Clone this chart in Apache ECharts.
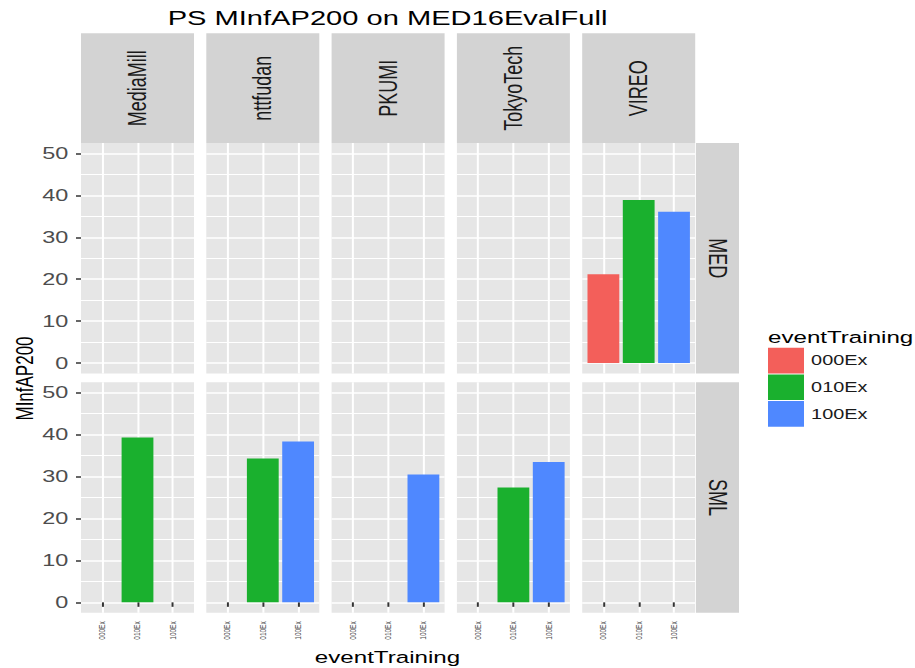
<!DOCTYPE html>
<html>
<head>
<meta charset="utf-8">
<script src="https://cdn.jsdelivr.net/npm/echarts@6/dist/echarts.min.js"></script>
<style>
html, body { margin: 0; padding: 0; background: #fff; overflow: hidden; }
#wrap { width: 915px; height: 668px; overflow: hidden; position: relative; }
#c { position: absolute; left: 0; top: 0; height: 668px; transform-origin: 0 0; }
</style>
</head>
<body>
<div id="wrap"><div id="c"></div></div>
<script>
// ---------- data ----------
const teams = ['MediaMill', 'nttfudan', 'PKUMI', 'TokyoTech', 'VIREO'];
const tasks = ['MED', 'SML'];
const categories = ['000Ex', '010Ex', '100Ex'];
const med000 = [null, null, null, null, 21.2];
const med010 = [null, null, null, null, 38.9];
const med100 = [null, null, null, null, 36.1];
const sml000 = [null, null, null, null, null];
const sml010 = [39.3, 34.3, null, 27.4, null];
const sml100 = [null, 38.4, 30.5, 33.5, null];
const yTicks = [0, 10, 20, 30, 40, 50];
const yMinor = [5, 15, 25, 35, 45];
const values = { MED: [med000, med010, med100], SML: [sml000, sml010, sml100] };

// ---------- style / layout ----------
const S = 1.42;                 // horizontal stretch of the reference
const W = 915 / S;
const FONT = 'Liberation Sans, Arial, sans-serif';
const colors = ['#F35F5A', '#1AB02E', '#4F88FF'];
const panelBg = '#E6E6E6';
const stripBg = '#D3D3D3';
const colLeft = [81, 206.3, 331.6, 456.9, 582.2];
const colW = 113;
const rowTop = [143, 382.3];
const rowH = 230.5;
const stripTop = 33.3, stripH = 109.7;
const rStripX = 696, rStripW = 43;

const el = document.getElementById('c');
el.style.width = W + 'px';
el.style.transform = 'scaleX(' + S + ')';
const chart = echarts.init(el, null, { renderer: 'svg', width: W, height: 668 });

const grid = [], xAxis = [], yAxis = [], series = [], graphic = [];
tasks.forEach((task, r) => {
  teams.forEach((team, c) => {
    const gi = r * teams.length + c;
    grid.push({
      left: colLeft[c] / S, top: rowTop[r], width: colW / S, height: rowH,
      show: true, backgroundColor: panelBg, borderWidth: 0, containLabel: false
    });
    xAxis.push({
      type: 'value', gridIndex: gi, min: 0.4, max: 3.6,
      axisLine: { show: false },
      axisTick: { show: r === 1, customValues: [1, 2, 3], length: 4.5,
        lineStyle: { color: '#333333', width: 1.4 } },
      axisLabel: { show: r === 1, customValues: [1, 2, 3], rotate: 90, margin: 8.5,
        fontSize: 6.5, fontFamily: FONT, color: '#4D4D4D',
        formatter: v => categories[Math.round(v) - 1] },
      splitLine: { show: true, lineStyle: { color: '#FFFFFF', width: 1.4 } }
    });
    yAxis.push({
      type: 'value', gridIndex: gi, min: -2.5, max: 52.5,
      axisLine: { show: false },
      axisTick: { show: c === 0, customValues: yTicks, length: 5 / S,
        lineStyle: { color: '#333333', width: 1.5 } },
      axisLabel: { show: c === 0, customValues: yTicks, margin: 12.7 / S,
        fontSize: 16.5, fontFamily: FONT, color: '#4D4D4D' },
      splitLine: { show: true, lineStyle: { color: '#FFFFFF', width: 1.7 } }
    });
    yAxis.push({
      type: 'value', gridIndex: gi, min: -2.5, max: 52.5,
      axisLine: { show: false },
      axisTick: { show: false, customValues: yMinor },
      axisLabel: { show: false, customValues: yMinor },
      splitLine: { show: true, lineStyle: { color: '#FFFFFF', width: 0.9 } }
    });
    categories.forEach((cat, k) => {
      const v = values[task][k][c];
      series.push({
        type: 'bar', name: cat, xAxisIndex: gi, yAxisIndex: 2 * gi,
        barWidth: 31.8 / S, barGap: '-100%',
        itemStyle: { color: colors[k] },
        data: v == null ? [] : [[k + 1, v]],
        silent: true, animation: false
      });
    });
  });
});

// facet strips
teams.forEach((team, c) => {
  graphic.push({ type: 'rect', silent: true,
    shape: { x: colLeft[c] / S, y: stripTop, width: colW / S, height: stripH },
    style: { fill: stripBg } });
  graphic.push({ type: 'text', silent: true,
    x: (colLeft[c] + colW / 2) / S, y: stripTop + stripH / 2, rotation: Math.PI / 2,
    style: { text: team, fontSize: 18, fontFamily: FONT, fill: '#1A1A1A',
      align: 'center', verticalAlign: 'middle' } });
});
tasks.forEach((task, r) => {
  graphic.push({ type: 'rect', silent: true,
    shape: { x: rStripX / S, y: rowTop[r], width: rStripW / S, height: rowH },
    style: { fill: stripBg } });
  graphic.push({ type: 'text', silent: true,
    x: (rStripX + rStripW / 2) / S, y: rowTop[r] + rowH / 2, rotation: -Math.PI / 2,
    style: { text: task, fontSize: 18, fontFamily: FONT, fill: '#1A1A1A',
      align: 'center', verticalAlign: 'middle' } });
});
// titles
graphic.push({ type: 'text', silent: true, x: 387.5 / S, y: 17.5,
  style: { text: 'PS MInfAP200 on MED16EvalFull', fontSize: 20.5, fontFamily: FONT,
    fill: '#000000', align: 'center', verticalAlign: 'middle' } });
graphic.push({ type: 'text', silent: true, x: 387.5 / S, y: 657,
  style: { text: 'eventTraining', fontSize: 17, fontFamily: FONT,
    fill: '#000000', align: 'center', verticalAlign: 'middle' } });
graphic.push({ type: 'text', silent: true, x: 24 / S, y: 378.5, rotation: Math.PI / 2,
  style: { text: 'MInfAP200', fontSize: 17, fontFamily: FONT,
    fill: '#000000', align: 'center', verticalAlign: 'middle' } });
graphic.push({ type: 'text', silent: true, x: 768 / S, y: 336.5,
  style: { text: 'eventTraining', fontSize: 17, fontFamily: FONT,
    fill: '#000000', align: 'left', verticalAlign: 'middle' } });

chart.setOption({
  animation: false,
  backgroundColor: '#FFFFFF',
  grid, xAxis, yAxis, series, graphic,
  legend: {
    orient: 'vertical', left: 768 / S, top: 347.7, padding: 0,
    itemWidth: 36 / S, itemHeight: 25.7, itemGap: 1, icon: 'rect',
    selectedMode: false, data: categories,
    textStyle: { fontSize: 14, fontFamily: FONT, color: '#1A1A1A' }
  }
});
</script>
</body>
</html>
